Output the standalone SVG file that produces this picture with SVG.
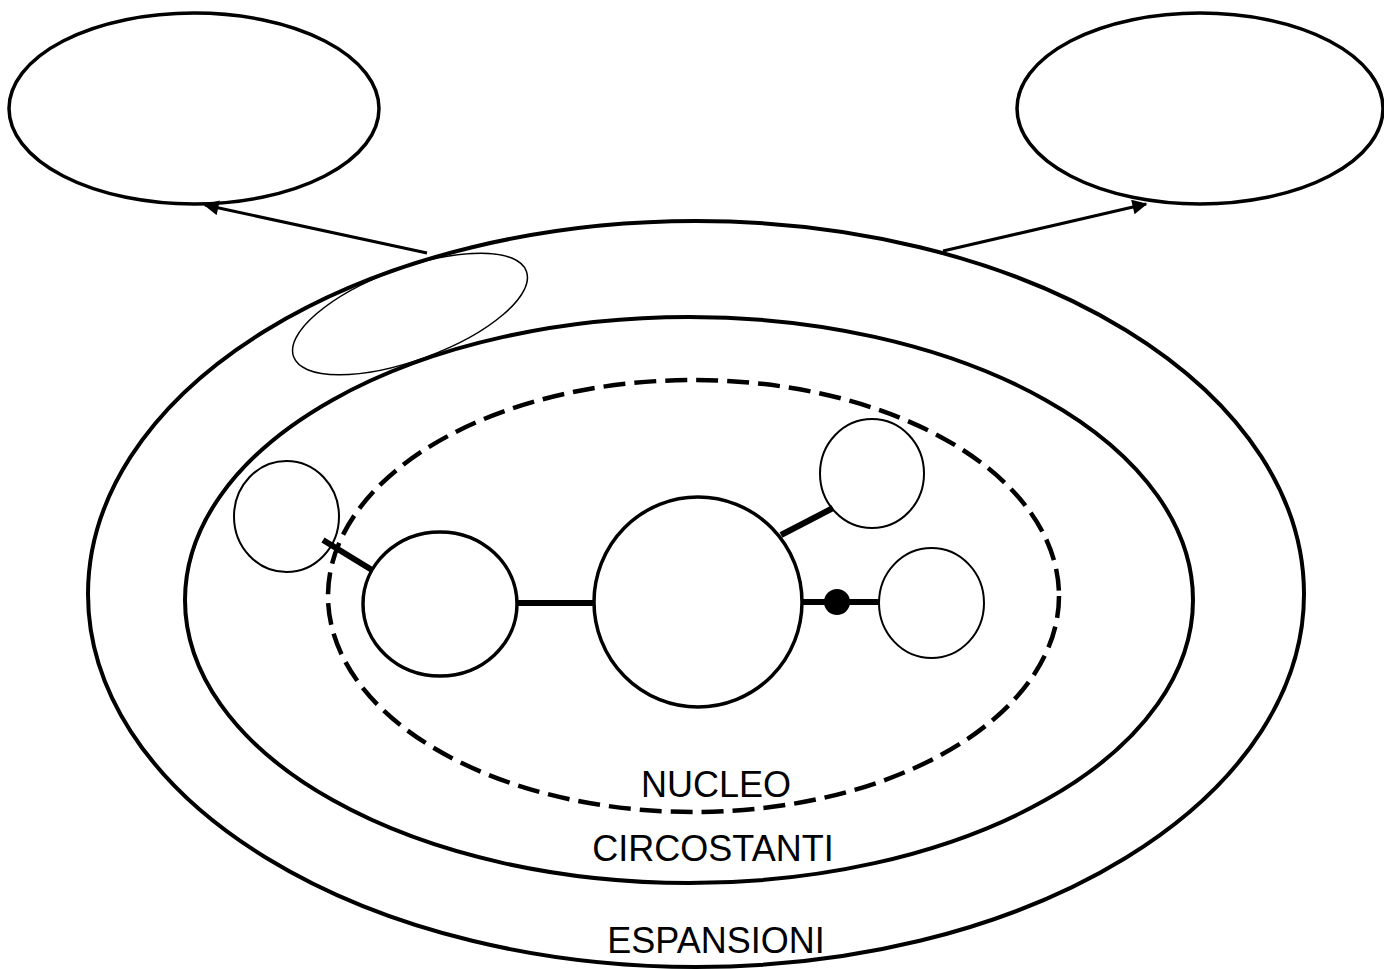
<svg xmlns="http://www.w3.org/2000/svg" width="1384" height="969" viewBox="0 0 1384 969">
<style>
.e{fill:none;stroke:#000}
.thick{stroke-width:4}
.med{stroke-width:3.5}
.thin{stroke-width:2}
.link{stroke:#000;stroke-width:6;fill:none}
.arrow{stroke:#000;stroke-width:3;fill:none}
.lbl{font-family:"Liberation Sans",Arial,sans-serif;font-size:36px;fill:#000;text-anchor:middle}
</style>
<defs>
<marker id="ah" viewBox="0 0 10 10" refX="9" refY="5" markerWidth="6" markerHeight="5" markerUnits="strokeWidth" orient="auto">
<path d="M0,0 L10,5 L0,10 z" fill="#000"/>
</marker>
</defs>
<rect width="1384" height="969" fill="#fff"/>
<g id="espansioni">
<ellipse class="e thick" cx="696" cy="594" rx="608" ry="373"/>
<text class="lbl" x="716" y="953">ESPANSIONI</text>
</g>
<g id="circostanti">
<ellipse class="e thick" cx="689" cy="600" rx="504" ry="283"/>
<text class="lbl" x="713" y="861">CIRCOSTANTI</text>
</g>
<g id="nucleo">
<ellipse class="e" stroke-width="4.5" stroke-dasharray="22 9" cx="693.5" cy="596" rx="365.5" ry="216"/>
<text class="lbl" x="716" y="797">NUCLEO</text>
</g>
<g id="box-left"><ellipse class="e med" cx="194" cy="108.5" rx="185" ry="95.5"/></g>
<g id="box-right"><ellipse class="e med" cx="1200" cy="108.5" rx="183" ry="95.5"/></g>
<g id="tilted"><ellipse class="e" stroke-width="1.5" cx="410" cy="314" rx="124" ry="46" transform="rotate(-20.2 410 314)"/></g>
<g id="connectors">
<line class="link" x1="323" y1="540" x2="372" y2="570"/>
<line class="link" x1="517" y1="603" x2="594" y2="603"/>
<line class="link" x1="781" y1="535" x2="833" y2="508"/>
<line class="link" x1="802" y1="602" x2="879" y2="602"/>
<circle cx="837" cy="602" r="13" fill="#000"/>
<line class="arrow" x1="427" y1="253" x2="205" y2="205" marker-end="url(#ah)"/>
<line class="arrow" x1="943" y1="251" x2="1146" y2="204" marker-end="url(#ah)"/>
</g>
<g id="sat-left"><ellipse class="e thin" cx="286.5" cy="516.5" rx="52.5" ry="55.5" fill="#fff"/></g>
<g id="node-a"><ellipse class="e med" cx="440" cy="604" rx="77" ry="72"/></g>
<g id="node-b"><ellipse class="e med" cx="698" cy="602" rx="104" ry="105"/></g>
<g id="sat-top"><ellipse class="e thin" cx="872" cy="473.5" rx="52" ry="54.5"/></g>
<g id="sat-right"><ellipse class="e thin" cx="931.5" cy="603" rx="52.5" ry="55"/></g>
</svg>
